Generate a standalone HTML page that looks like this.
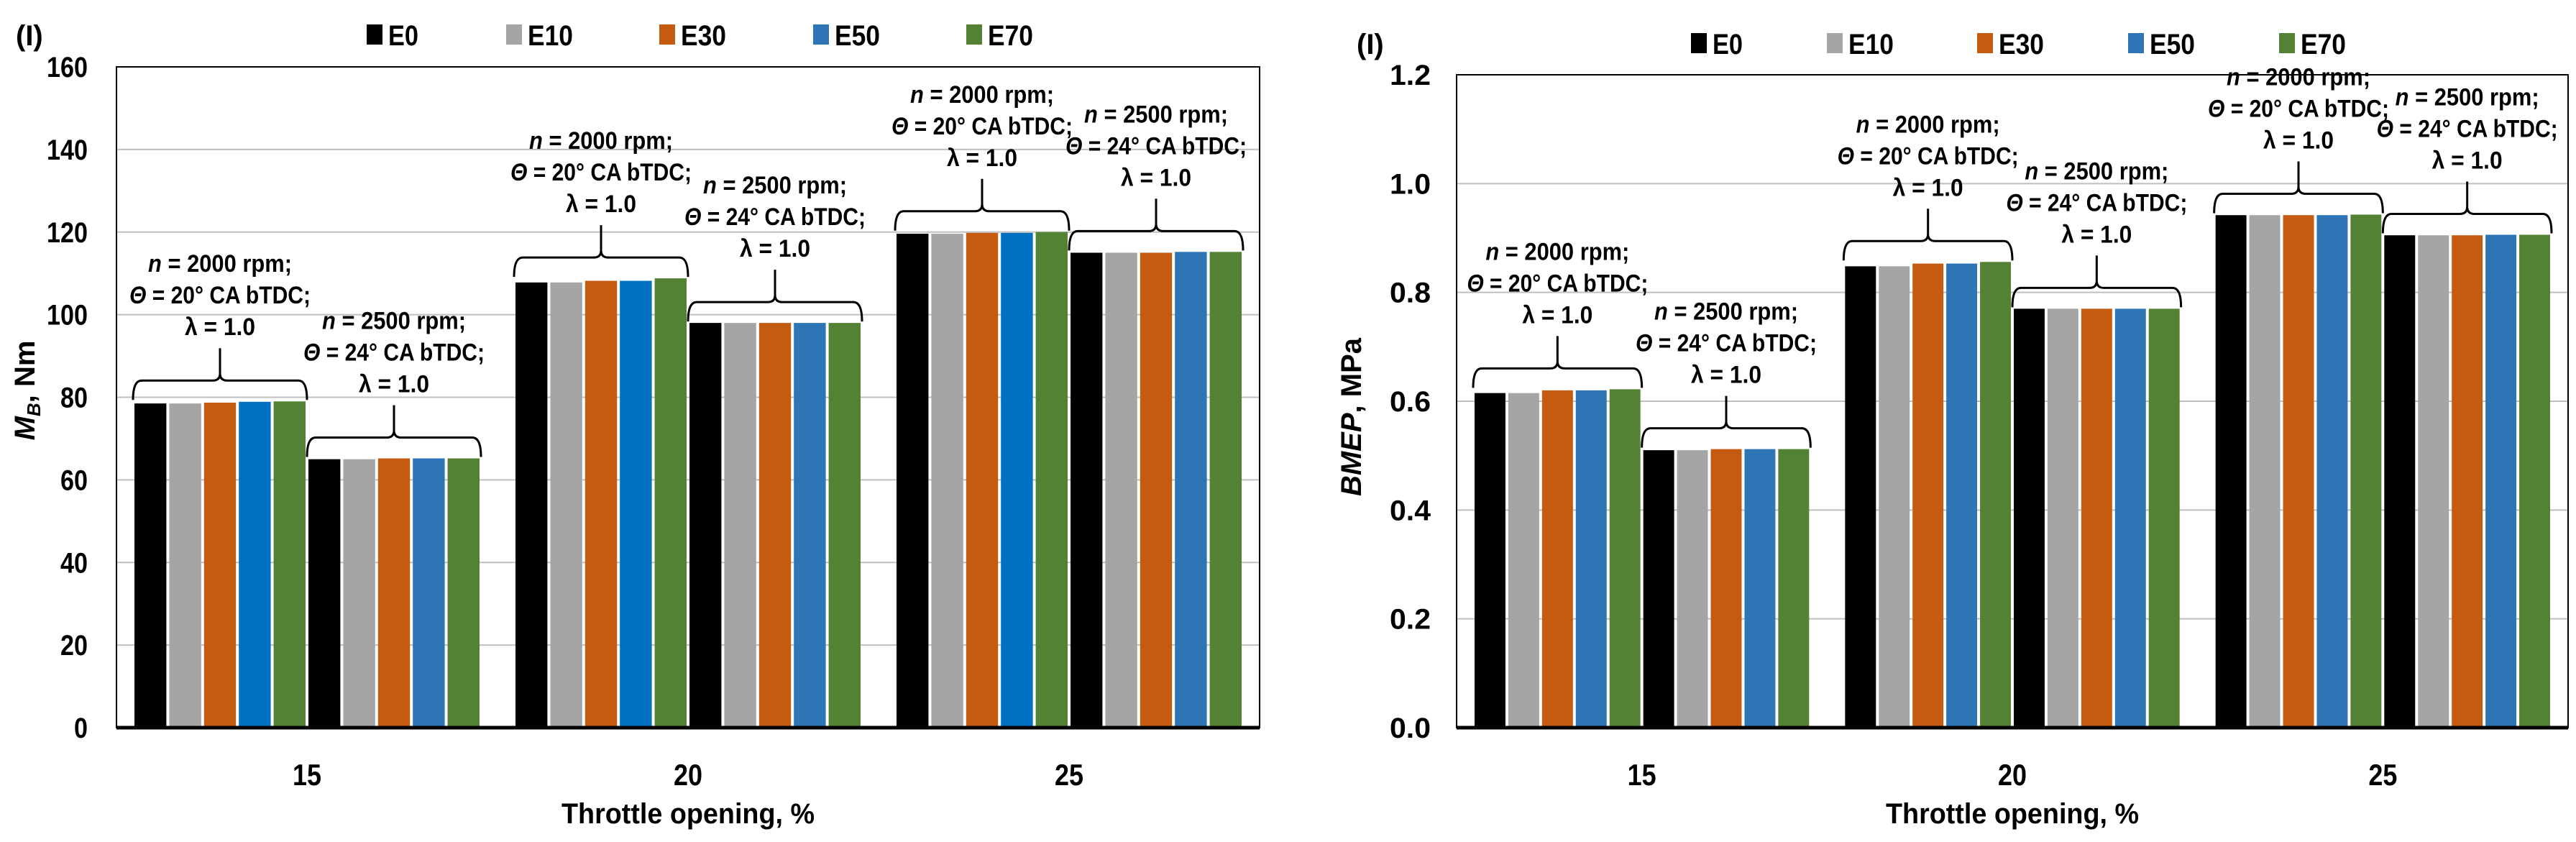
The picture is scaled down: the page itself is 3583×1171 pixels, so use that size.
<!DOCTYPE html>
<html><head><meta charset="utf-8"><style>
html,body{margin:0;padding:0;background:#fff;}
svg{display:block;font-family:"Liberation Sans",sans-serif;font-weight:bold;}
</style></head><body>
<svg id="fig" width="3583" height="1171" viewBox="0 0 3583 1171" xmlns="http://www.w3.org/2000/svg"></svg>
<script>
const categories = ["15","20","25"];
const seriesNames = ["E0","E10","E30","E50","E70"];
const seriesColors = ["#000000","#a5a5a5","#c55a11","#2e75b6","#548235"];
// torque (Nm): per category, subgroup A (2000 rpm) and subgroup B (2500 rpm), per series
const torqueA = [[78.5,78.5,78.7,78.9,79.0],[107.8,107.8,108.2,108.2,108.8],[119.6,119.6,119.8,119.8,120.0]];
const torqueB = [[65.0,65.0,65.2,65.2,65.2],[98.0,98.0,98.0,98.0,98.0],[115.0,115.0,115.0,115.2,115.2]];
const bmepA = [[0.615,0.615,0.620,0.620,0.622],[0.848,0.848,0.853,0.853,0.856],[0.942,0.942,0.942,0.942,0.943]];
const bmepB = [[0.510,0.510,0.512,0.512,0.512],[0.770,0.770,0.770,0.770,0.770],[0.905,0.905,0.905,0.906,0.906]];
const torqueTicks = ["0","20","40","60","80","100","120","140","160"];
const bmepTicks = ["0.0","0.2","0.4","0.6","0.8","1.0","1.2"];
const annotA = ["n = 2000 rpm;","Θ = 20° CA bTDC;","λ = 1.0"];
const annotB = ["n = 2500 rpm;","Θ = 24° CA bTDC;","λ = 1.0"];

const NS="http://www.w3.org/2000/svg";
const svg=document.getElementById('fig');
function mk(tag,attrs,parent){const e=document.createElementNS(NS,tag);for(const k in attrs)e.setAttribute(k,attrs[k]);(parent||svg).appendChild(e);return e;}

function drawChart(cfg){
  const g=mk('g',{});
  
  
  const {x0,x1,yTop,yBot,max,ticks}=cfg;
  const yS=v=>yBot-(v/max)*(yBot-yTop);
  const catW=(x1-x0)/categories.length;
  ticks.forEach(t=>{
    const v=parseFloat(t);const y=yS(v);
    if(v>0&&v<max){const l=mk('line',{x1:x0,x2:x1,y1:y,y2:y,stroke:'#bfbfbf','stroke-width':2},g);
      }
    const tx=mk('text',{x:cfg.tickX,y:y+14,'text-anchor':'end','font-size':40,textLength:t.length*19,lengthAdjust:'spacingAndGlyphs'},g);
    tx.textContent=t;
    
  });
  const fr=mk('rect',{x:x0,y:yTop,width:x1-x0,height:yBot-yTop,fill:'none',stroke:'#000','stroke-width':2},g);
  
  const slot=(catW-46)/10;
  categories.forEach((c,ci)=>{
    const cx0=x0+ci*catW+23;
    [cfg.A,cfg.B].forEach((arr,si)=>{
      let minTop=1e9;
      arr[ci].forEach((v,k)=>{
        const bx=cx0+(si*5+k)*slot+2;const top=yS(v);minTop=Math.min(minTop,top);
        let col=seriesColors[k];
        if(cfg.brightE50A&&si===0&&k===3)col='#0070c0';
        const r=mk('rect',{x:bx,y:top,width:slot-4,height:yBot-top,fill:col},g);
        
        
      });
      const bl=cx0+si*5*slot, br=bl+5*slot;
      const base=minTop-2, line=base-27, spike=line-45, mid=(bl+br)/2;
      const p=mk('path',{d:`M${bl},${base} Q${bl},${line} ${bl+12},${line} L${mid-10},${line} Q${mid},${line} ${mid},${line-10} L${mid},${spike} M${mid},${line-10} Q${mid},${line} ${mid+10},${line} L${br-12},${line} Q${br},${line} ${br},${base}`,fill:'none',stroke:'#000','stroke-width':3},g);
      
      const lines=si?annotB:annotA;
      const lens=[200,252,98];
      lines.forEach((s,li)=>{
        const t=mk('text',{x:mid,y:spike-18-(2-li)*44,'text-anchor':'middle','font-size':34,textLength:lens[li],lengthAdjust:'spacingAndGlyphs'},g);
        if(li===0){const ts=mk('tspan',{'font-style':'italic'},t);ts.textContent='n';const r2=mk('tspan',{},t);r2.textContent=s.slice(1);}
        else if(li===1){const ts=mk('tspan',{'font-style':'italic'},t);ts.textContent='Θ';const r2=mk('tspan',{},t);r2.textContent=s.slice(1);}
        else t.textContent=s;
        
      });
    });
    const cl=mk('text',{x:x0+(ci+0.5)*catW,y:1092,'text-anchor':'middle','font-size':42,textLength:40,lengthAdjust:'spacingAndGlyphs'},g);
    cl.textContent=c;
  });
  const ax=mk('line',{x1:x0,x2:x1,y1:yBot,y2:yBot,stroke:'#000','stroke-width':5},g);
  
  const xt=mk('text',{x:(x0+x1)/2,y:1145,'text-anchor':'middle','font-size':40,textLength:352,lengthAdjust:'spacingAndGlyphs'},g);
  xt.textContent='Throttle opening, %';
  const yt=mk('text',{transform:`translate(${cfg.yTitleX},${cfg.yTitleY}) rotate(-90)`,'text-anchor':'middle','font-size':40},g);
  
  cfg.yTitle(yt);
  const pl=mk('text',{x:cfg.plX,y:cfg.legY+15,'font-size':40},g);
  pl.textContent='(I)';
  seriesNames.forEach((n,k)=>{
    const lx=cfg.legX[k];
    const sq=mk('rect',{x:lx,y:cfg.legY-14,width:22,height:28,fill:seriesColors[k]},g);
    
    const lt=mk('text',{x:lx+30,y:cfg.legY+15,'font-size':40,textLength:n.length*21,lengthAdjust:'spacingAndGlyphs'},g);
    lt.textContent=n;
  });
}

drawChart({name:'torque-chart',x0:162,x1:1752,yTop:93,yBot:1012,max:160,ticks:torqueTicks,A:torqueA,B:torqueB,brightE50A:true,
  tickX:122,yTitleX:48,yTitleY:543,plX:22,legY:48,legX:[510,704,917,1131,1344],
  yTitle:t=>{const a=mk('tspan',{'font-style':'italic'},t);a.textContent='M';const b=mk('tspan',{'font-style':'italic','font-size':26,dy:8},t);b.textContent='B';const c=mk('tspan',{dy:-8},t);c.textContent=', Nm';}});
drawChart({name:'bmep-chart',x0:2026,x1:3572,yTop:104,yBot:1012,max:1.2,ticks:bmepTicks,A:bmepA,B:bmepB,
  tickX:1990,yTitleX:1893,yTitleY:580,plX:1887,legY:60,legX:[2352,2541,2750,2960,3170],
  yTitle:t=>{const a=mk('tspan',{'font-style':'italic'},t);a.textContent='BMEP';const c=mk('tspan',{},t);c.textContent=', MPa';}});
</script>
</body></html>
